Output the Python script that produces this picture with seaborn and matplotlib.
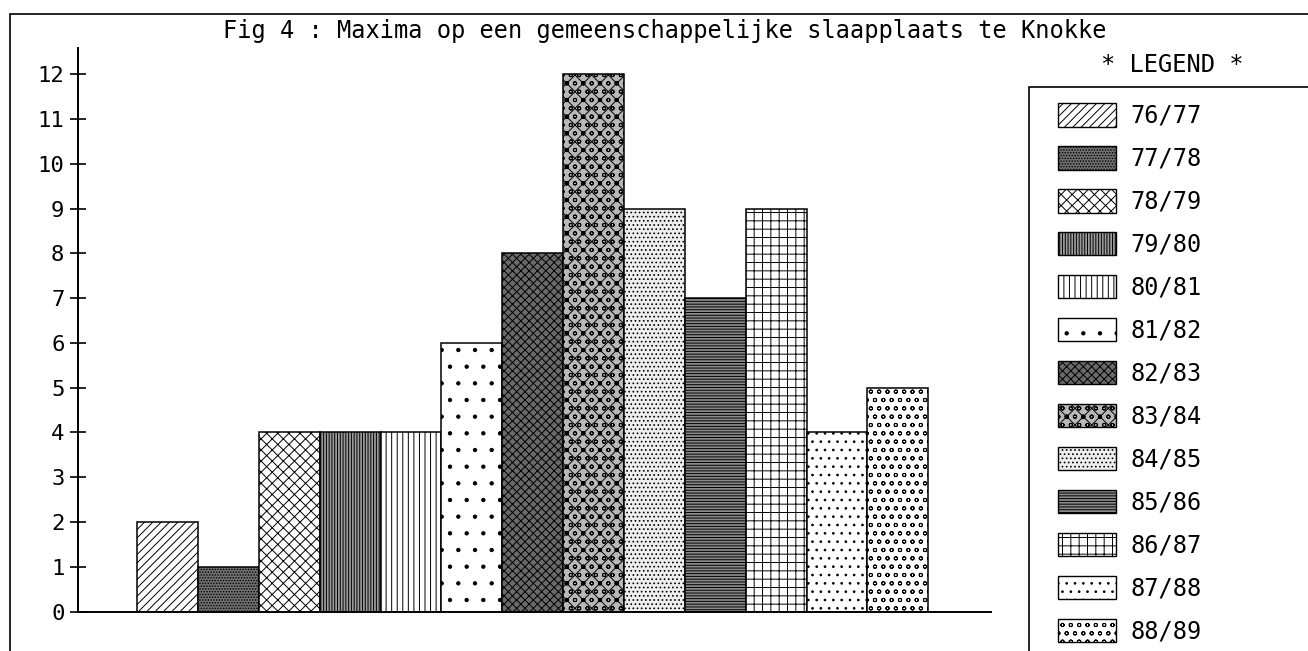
import matplotlib
matplotlib.use("Agg")
import matplotlib.pyplot as plt
import seaborn as sns
import pandas as pd
from matplotlib.patches import Patch, Rectangle

# ---- data ----
seasons = ["76/77", "77/78", "78/79", "79/80", "80/81", "81/82", "82/83",
           "83/84", "84/85", "85/86", "86/87", "87/88", "88/89"]
maxima = [2, 1, 4, 4, 4, 6, 8, 12, 9, 7, 9, 4, 5]
yticks = list(range(0, 13))
title = "Fig 4 : Maxima op een gemeenschappelijke slaapplaats te Knokke"
legend_title = "* LEGEND *"

# ---- styles ----
hatches = ['////', '......', 'xxx', '||||||', '|||', '.', 'xxxx', 'xxoo',
           '....', '------', '++', '..', 'oo']
faces = ['white', '#707070', 'white', '#9a9a9a', 'white', 'white', '#6a6a6a',
         '#b8b8b8', '#eeeeee', '#8a8a8a', 'white', 'white', 'white']

sns.set_theme(style='white')
plt.rcParams['font.family'] = ['DejaVu Sans Mono', 'DejaVu Sans']
plt.rcParams['text.color'] = 'black'
plt.rcParams['hatch.linewidth'] = 0.7
plt.rcParams['hatch.color'] = 'black'

W, H = 1308, 651
fig = plt.figure(figsize=(W / 100, H / 100), dpi=100)
fig.patch.set_facecolor('white')
ax = fig.add_axes([78 / W, 1 - 611.5 / H, (991 - 78) / W, (611.5 - 48) / H])

df = pd.DataFrame({'season': seasons, 'maximum': maxima})
sns.barplot(data=df, x='season', y='maximum', hue='season',
            palette={s: 'white' for s in seasons}, width=1.0, legend=False,
            saturation=1, edgecolor='black', linewidth=1.0, ax=ax)

bars = sorted(ax.patches, key=lambda p: p.get_x())
for p, h, f in zip(bars, hatches, faces):
    p.set_hatch(h)
    p.set_facecolor(f)
    p.set_edgecolor('black')
    p.set_linewidth(1.1)

ax.set_xlim(-1.47, 13.53)
ax.set_ylim(0, 12.59)
ax.set_xticks([])
ax.set_yticks(yticks)
ax.set_yticklabels([str(t) for t in yticks])
ax.set_xlabel('')
ax.set_ylabel('')
sns.despine(ax=ax)
for s in ('left', 'bottom'):
    ax.spines[s].set_color('black')
    ax.spines[s].set_linewidth(1.4)
ax.tick_params(axis='y', direction='inout', length=11.5, width=1.2,
               labelsize=16, pad=4, colors='black', left=True)
ax.set_facecolor('white')

# title
fig.text(665 / W, 1 - 31 / H, title, ha='center', va='center',
         fontsize=17, color='black')

# outer frame
fig.add_artist(Rectangle((10 / W, -0.1), 1.2, 1 - 14 / H + 0.1,
                         transform=fig.transFigure, fill=False,
                         edgecolor='black', linewidth=1.2))
# legend frame
fig.add_artist(Rectangle((1029 / W, -0.1), 0.5, 1 - 87 / H + 0.1,
                         transform=fig.transFigure, fill=False,
                         edgecolor='black', linewidth=1.2))
fig.text(1172 / W, 1 - 65 / H, legend_title, ha='center', va='center',
         fontsize=17, color='black')

handles = [Patch(facecolor=f, edgecolor='black', hatch=h, linewidth=1.0)
           for h, f in zip(hatches, faces)]
leg = fig.legend(handles, seasons, loc='upper left',
                 bbox_to_anchor=(1058 / W, 1 - 103 / H), frameon=False,
                 fontsize=17, handlelength=2.46, handleheight=1.16,
                 handletextpad=0.62, labelspacing=0.77, borderpad=0,
                 borderaxespad=0)
for t in leg.get_texts():
    t.set_color('black')

fig.savefig('out.png', dpi=100, facecolor='white')
